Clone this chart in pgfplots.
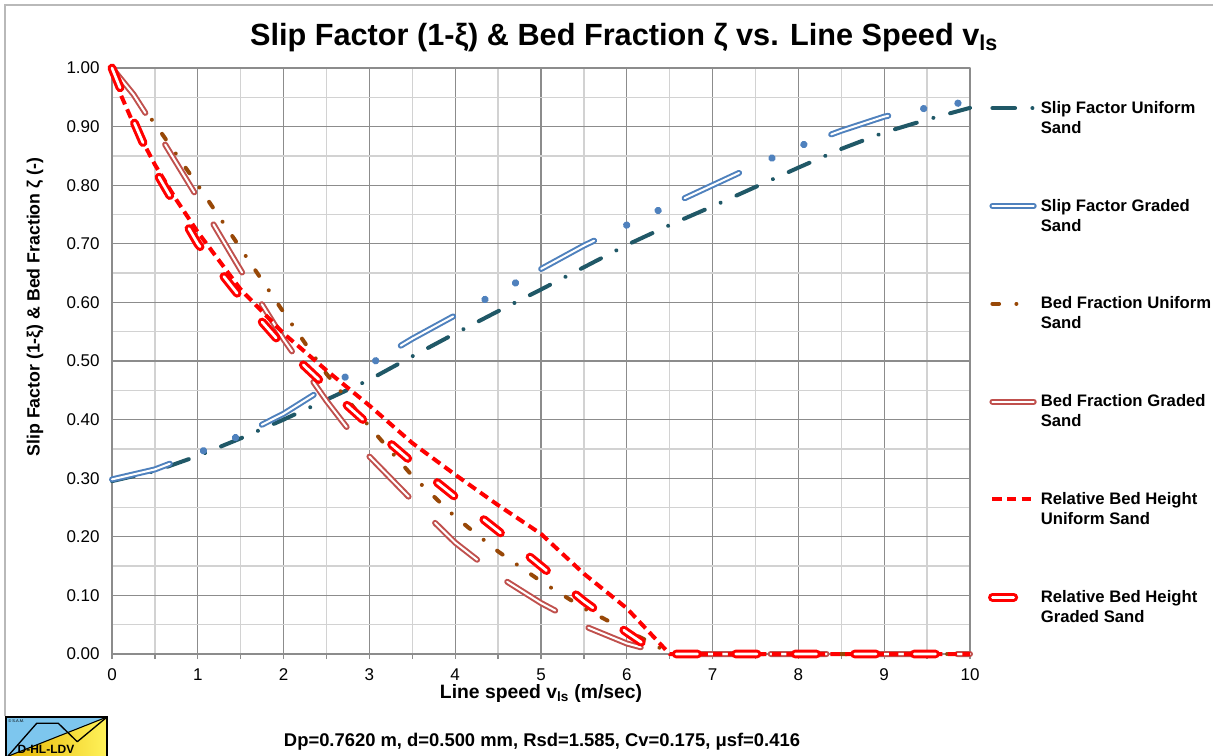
\documentclass[border=0pt]{standalone}
\usepackage{pgfplots}
\pgfplotsset{compat=1.18}
\usepackage{fontspec}
\setmainfont{Liberation Sans}
\definecolor{cTeal}{HTML}{205867}
\definecolor{cBlue}{HTML}{4F81BD}
\definecolor{cBrown}{HTML}{984807}
\definecolor{cRose}{HTML}{C0504D}
\definecolor{cRed}{HTML}{FF0000}
\definecolor{gMaj}{HTML}{8C8C8C}
\definecolor{gMin}{HTML}{D2D2D2}
\definecolor{logoBlue}{HTML}{7DC6EE}
\definecolor{logoY1}{HTML}{E4B200}
\definecolor{logoY2}{HTML}{FFF25A}
\pgfplotsset{
 sU/.style={cTeal, line width=3pt, line cap=round, dash pattern=on 17pt off 13pt on 0.01pt off 13pt},
 sG/.style={cBlue, line width=1.5pt, double=white, double distance=1.5pt, line cap=round, dash pattern=on 45pt off 75pt},
 sGdots/.style={cBlue, line width=5.5pt, line cap=round, dash pattern=on 0.01pt off 26pt on 0.01pt off 94pt, dash phase=48pt},
 bU/.style={cBrown, line width=3pt, line cap=round, dash pattern=on 5pt off 13pt on 0.01pt off 13pt},
 bG/.style={cRose, line width=1.5pt, double=white, double distance=1.5pt, line cap=round, dash pattern=on 42pt off 28pt},
 hU/.style={cRed, line width=3pt, dash pattern=on 7pt off 4pt},
 hG/.style={cRed, line width=2.3pt, double=white, double distance=2pt, line cap=round, dash pattern=on 16pt off 28.6pt},
}
\begin{document}
\begin{tikzpicture}
\path[use as bounding box] (0pt,0pt) rectangle (909.75pt,-567pt);
\begin{axis}[
 at={(84pt,-490.5pt)}, anchor=south west,
 scale only axis, width=643.5pt, height=439.5pt,
 xmin=0, xmax=10, ymin=0, ymax=1,
 clip=false,
 xtick={0,1,2,3,4,5,6,7,8,9,10},
 minor xtick={0.5,1.5,2.5,3.5,4.5,5.5,6.5,7.5,8.5,9.5},
 ytick={0,0.1,0.2,0.3,0.4,0.5,0.6,0.7,0.8,0.9,1},
 minor ytick={0.05,0.15,0.25,0.35,0.45,0.55,0.65,0.75,0.85,0.95},
 grid=both,
 major grid style={draw=gMaj, line width=1pt},
 minor grid style={draw=gMin, line width=1pt},
 axis line style={draw=gMaj, line width=1pt},
 tick align=outside, tick pos=left,
 major tick length=3.75pt, minor tick length=3.75pt,
 xtick style={draw=gMaj, line width=1pt},
 ytick style={draw=none},
 /pgf/number format/assume math mode=true,
 ticklabel style={font=\fontsize{12.75}{14}\selectfont},
 xticklabel style={yshift=-4pt},
 yticklabel style={xshift=-2pt},
 y tick label style={/pgf/number format/fixed, /pgf/number format/fixed zerofill, /pgf/number format/precision=2},
 no marks,
 line join=round,
 legend image code/.code={\draw[#1] (0pt,0pt) -- (31pt,0pt);},
 legend image post style={yshift=7.5pt},
 legend style={at={(1.016,0.953)}, anchor=north west, draw=none, fill=none,
   font=\bfseries\fontsize{12.5}{15}\selectfont, row sep=43.8pt,
   cells={align=left, anchor=west}},
 legend cell align=left,
]
\addplot[sU] coordinates {(0,0.295) (0.5,0.312) (1,0.338) (1.5,0.368) (2,0.400) (2.5,0.434) (3,0.468) (3.5,0.508) (4,0.547) (4.5,0.585) (5,0.622) (5.5,0.660) (6,0.698) (6.5,0.732) (7,0.764) (7.5,0.797) (8,0.830) (8.5,0.862) (9,0.890) (9.5,0.912) (10,0.932)};
\addlegendentry{Slip Factor Uniform\\Sand}
\addplot[sG] coordinates {(0,0.298) (0.5,0.315) (1,0.343) (1.5,0.373) (2,0.410) (2.5,0.456) (3,0.494) (3.5,0.538) (4,0.578) (4.5,0.617) (5,0.657) (5.5,0.697) (6,0.732) (6.5,0.766) (7,0.800) (7.5,0.834) (8,0.866) (8.5,0.893) (9,0.917) (9.5,0.932) (10,0.943)};
\addlegendentry{Slip Factor Graded\\Sand}
\addplot[sGdots, forget plot] coordinates {(0,0.298) (0.5,0.315) (1,0.343) (1.5,0.373) (2,0.410) (2.5,0.456) (3,0.494) (3.5,0.538) (4,0.578) (4.5,0.617) (5,0.657) (5.5,0.697) (6,0.732) (6.5,0.766) (7,0.800) (7.5,0.834) (8,0.866) (8.5,0.893) (9,0.917) (9.5,0.932) (10,0.943)};
\addplot[bU] coordinates {(0,1.0) (0.5,0.905) (1,0.800) (1.5,0.692) (2,0.583) (2.5,0.478) (3,0.388) (3.5,0.304) (4,0.234) (4.5,0.175) (5,0.124) (5.5,0.078) (6,0.040) (6.3,0.018) (6.5,0) (7,0) (8,0) (9,0) (10,0)};
\addlegendentry{Bed Fraction Uniform\\Sand}
\addplot[bG] coordinates {(0,1.0) (0.25,0.955) (0.5,0.898) (1,0.778) (1.5,0.655) (2,0.537) (2.5,0.432) (3,0.337) (3.5,0.262) (4,0.190) (4.5,0.133) (5,0.087) (5.5,0.048) (6,0.018) (6.3,0.006) (6.5,0) (7,0) (8,0) (9,0) (10,0)};
\addlegendentry{Bed Fraction Graded\\Sand}
\addplot[hU] coordinates {(0,1.0) (0.1,0.955) (0.25,0.905) (0.5,0.835) (0.75,0.775) (1,0.720) (1.5,0.622) (2,0.547) (2.5,0.484) (3,0.424) (3.5,0.360) (4,0.306) (4.5,0.254) (5,0.205) (5.5,0.137) (6,0.078) (6.5,0) (7,0) (8,0) (9,0) (10,0)};
\addlegendentry{Relative Bed Height\\Uniform Sand}
\addplot[hG] coordinates {(0,1.0) (0.1,0.964) (0.25,0.910) (0.5,0.826) (0.75,0.763) (1,0.700) (1.5,0.608) (2,0.525) (2.5,0.456) (3,0.390) (3.5,0.327) (4,0.268) (4.5,0.210) (5,0.150) (5.5,0.090) (6,0.037) (6.2,0.017) (6.4,0) (7,0) (8,0) (9,0) (10,0)};
\addlegendentry{Relative Bed Height\\Graded Sand}
\end{axis}
\begin{scope}[x=0.75pt,y=-0.75pt]
\draw[gray!55, line width=0.9pt] (5,716) -- (5,5) -- (1213,5);
\node[font=\bfseries\fontsize{23}{26}\selectfont] at (624,38) {Slip Factor (1-ξ) \& Bed Fraction ζ vs. Line Speed v\textsubscript{ls}};
\node[rotate=90, font=\bfseries\fontsize{13.3}{15}\selectfont] at (35,307) {Slip Factor (1-ξ) \& Bed Fraction ζ (-)};
\node[font=\bfseries\fontsize{14.5}{16}\selectfont] at (541,693) {Line speed v\textsubscript{ls} (m/sec)};
\node[font=\bfseries\fontsize{13.8}{15}\selectfont] at (542,742) {Dp=0.7620 m, d=0.500 mm, Rsd=1.585, Cv=0.175, μsf=0.416};
% logo
\fill[logoBlue] (6,717) rectangle (107,757);
\shade[left color=logoY1, right color=logoY2] (6,757) -- (107,717) -- (107,757) -- cycle;
\draw[black, line width=0.8pt] (6,757) -- (107,717);
\draw[black, line width=1pt, line join=round] (8,756) -- (36.7,723.3) -- (58.3,723.3) -- (77.3,741.7) -- (106.7,717.3);
\draw[black, line width=1pt] (6,717) rectangle (107,757);
\node[font=\fontsize{3}{3}\selectfont, anchor=west, inner sep=0pt] at (8,721) {© S.A.M.};
\node[font=\bfseries\fontsize{9}{10}\selectfont, inner sep=0pt] at (46,749) {D-HL-LDV};
\end{scope}
\end{tikzpicture}
\end{document}
